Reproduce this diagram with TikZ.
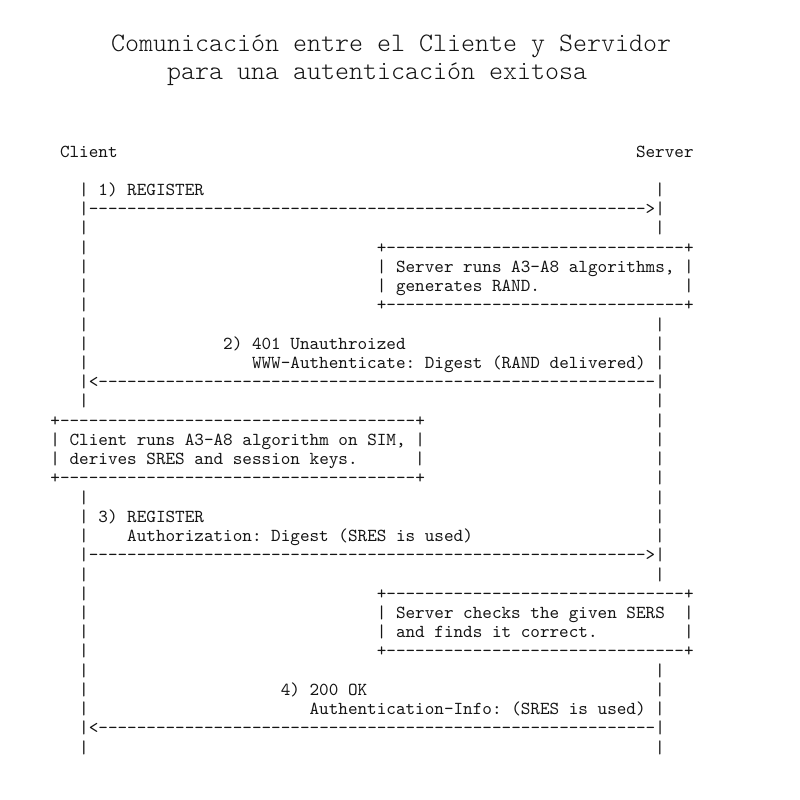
\documentclass[tikz,border=0pt]{standalone}
\usepackage{fontspec}
\setmonofont{lmmono10-regular.otf}
\newfontfamily\ttlfont{lmmonolt10-regular.otf}
\ExplSyntaxOn
\cs_new:Npn \myrep #1#2 { \prg_replicate:nn {#1} {#2} }
\ExplSyntaxOff
\definecolor{ink}{RGB}{20,20,20}
\tikzset{
  asc/.style={font=\ttfamily\fontsize{18.29}{22}\selectfont, anchor=base west, inner sep=0pt, outer sep=0pt, text=ink},
  ttl/.style={font=\ttlfont\fontsize{26.67}{32}\selectfont, anchor=base west, inner sep=0pt, outer sep=0pt, text=ink}
}
\newcommand\R[4]{\node[asc] (#1) at ({79.2+9.6*(#2)},{157+19.23*(#3)}) {#4};}
\begin{document}
\begin{tikzpicture}[x=1pt,y=-1pt]
\frenchspacing
\fill[white] (0,0) rectangle (800,800);
\useasboundingbox (0,0) rectangle (800,800);
% title
\node[ttl] (t1) at (111,52) {Comunicación entre el Cliente y Servidor};
\node[ttl] (t2) at (167,80) {para una autenticación exitosa};
% actors
\R{client}{-2}{0}{Client}
\R{server}{58}{0}{Server}
% lifelines
\foreach \r in {2,4,5,6,7,8,9,10,11,13,18,19,20,22,23,24,25,26,27,28,29,31}
  {\R{cl\r}{0}{\r}{|}}
\foreach \r in {2,4,9,10,11,13,14,15,16,17,18,19,20,22,27,28,29,31}
  {\R{sv\r}{60}{\r}{|}}
% step 1
\R{m1}{2}{2}{1) REGISTER}
\R{a1}{0}{3}{|\myrep{58}{-}>|}
\R{sbat}{31}{5}{+\myrep{31}{-}+}
\R{sbaa}{31}{6}{| Server runs A3-A8 algorithms, |}
\R{sbab}{31}{7}{| generates RAND.}
\R{sbabr}{63}{7}{|}
\R{sbabot}{31}{8}{+\myrep{31}{-}+}
% step 2
\R{m2a}{15}{10}{2) 401 Unauthroized}
\R{m2b}{18}{11}{WWW-Authenticate: Digest (RAND delivered)}
\R{a2}{0}{12}{|<\myrep{58}{-}|}
\R{cbt}{-3}{14}{+\myrep{37}{-}+}
\R{cba}{-3}{15}{| Client runs A3-A8 algorithm on SIM, |}
\R{cbb}{-3}{16}{| derives SRES and session keys.}
\R{cbbr}{35}{16}{|}
\R{cbbot}{-3}{17}{+\myrep{37}{-}+}
% step 3
\R{m3a}{2}{19}{3) REGISTER}
\R{m3b}{5}{20}{Authorization: Digest (SRES is used)}
\R{a3}{0}{21}{|\myrep{58}{-}>|}
\R{sbbt}{31}{23}{+\myrep{31}{-}+}
\R{sbba}{31}{24}{| Server checks the given SERS}
\R{sbbar}{63}{24}{|}
\R{sbbb}{31}{25}{| and finds it correct.}
\R{sbbbr}{63}{25}{|}
\R{sbbbot}{31}{26}{+\myrep{31}{-}+}
% step 4
\R{m4a}{21}{28}{4) 200 OK}
\R{m4b}{24}{29}{Authentication-Info: (SRES is used)}
\R{a4}{0}{30}{|<\myrep{58}{-}|}
\end{tikzpicture}
\end{document}
